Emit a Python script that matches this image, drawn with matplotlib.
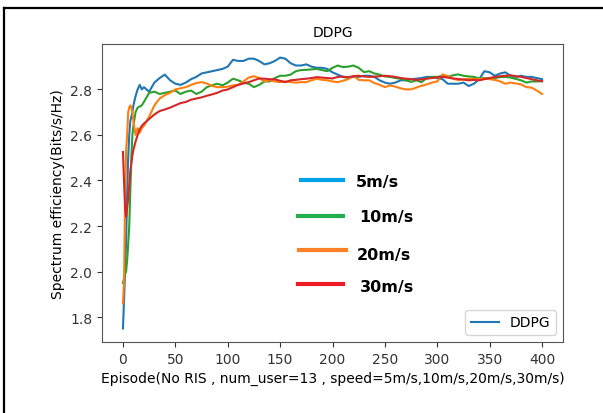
import matplotlib
matplotlib.use("Agg")
import matplotlib.pyplot as plt
from matplotlib.lines import Line2D

episodes = [0, 1, 2, 3, 4, 5, 6, 7, 8, 9, 10, 12, 14, 16, 18, 20] + list(range(25, 401, 5))

blue_5 = [1.75, 1.87, 2.00, 2.13, 2.35, 2.50, 2.60, 2.66, 2.68, 2.70, 2.73, 2.77, 2.80, 2.82, 2.80, 2.81,
          2.79, 2.83, 2.85, 2.865, 2.84, 2.825, 2.82, 2.83, 2.845, 2.855, 2.87, 2.875, 2.88, 2.885, 2.89,
          2.90, 2.93, 2.925, 2.925, 2.935, 2.935, 2.925, 2.91, 2.915, 2.925, 2.94, 2.935, 2.915, 2.905,
          2.905, 2.91, 2.90, 2.895, 2.895, 2.89, 2.875, 2.865, 2.855, 2.85, 2.855, 2.855, 2.86, 2.86,
          2.855, 2.84, 2.83, 2.825, 2.83, 2.84, 2.84, 2.845, 2.847, 2.85, 2.855, 2.855, 2.85, 2.845,
          2.825, 2.825, 2.825, 2.83, 2.815, 2.825, 2.845, 2.88, 2.875, 2.86, 2.87, 2.875, 2.86, 2.855,
          2.86, 2.855, 2.855, 2.85, 2.845]

green_10 = [1.95, 1.97, 1.99, 2.00, 2.05, 2.12, 2.20, 2.35, 2.50, 2.60, 2.64, 2.70, 2.72, 2.725, 2.73, 2.745,
            2.785, 2.79, 2.78, 2.785, 2.79, 2.795, 2.78, 2.79, 2.795, 2.78, 2.79, 2.81, 2.818, 2.825, 2.818,
            2.83, 2.847, 2.84, 2.83, 2.825, 2.81, 2.82, 2.835, 2.835, 2.85, 2.86, 2.86, 2.865, 2.88,
            2.885, 2.886, 2.888, 2.89, 2.885, 2.88, 2.895, 2.905, 2.898, 2.90, 2.905, 2.895, 2.876, 2.88,
            2.87, 2.865, 2.857, 2.855, 2.85, 2.847, 2.84, 2.833, 2.84, 2.832, 2.85, 2.855, 2.855, 2.86,
            2.855, 2.862, 2.866, 2.86, 2.857, 2.855, 2.848, 2.85, 2.848, 2.85, 2.854, 2.855, 2.852, 2.846,
            2.84, 2.83, 2.835, 2.835, 2.836]

orange_20 = [1.86, 1.95, 2.30, 2.53, 2.60, 2.70, 2.72, 2.73, 2.72, 2.70, 2.66, 2.60, 2.63, 2.61, 2.63, 2.64,
             2.68, 2.73, 2.76, 2.775, 2.785, 2.80, 2.805, 2.81, 2.82, 2.828, 2.832, 2.826, 2.815, 2.81, 2.81,
             2.812, 2.818, 2.82, 2.835, 2.852, 2.858, 2.85, 2.835, 2.84, 2.835, 2.832, 2.835, 2.832, 2.83,
             2.832, 2.832, 2.84, 2.847, 2.842, 2.84, 2.835, 2.832, 2.838, 2.845, 2.86, 2.842, 2.84, 2.84,
             2.828, 2.82, 2.81, 2.818, 2.812, 2.805, 2.80, 2.80, 2.808, 2.816, 2.822, 2.83, 2.835, 2.866,
             2.858, 2.848, 2.84, 2.845, 2.847, 2.845, 2.846, 2.848, 2.845, 2.842, 2.835, 2.825, 2.83, 2.826,
             2.822, 2.81, 2.808, 2.795, 2.78]

red_30 = [2.525, 2.40, 2.28, 2.24, 2.28, 2.32, 2.38, 2.44, 2.475, 2.51, 2.535, 2.57, 2.60, 2.625, 2.64, 2.65,
          2.67, 2.69, 2.705, 2.712, 2.72, 2.73, 2.74, 2.745, 2.755, 2.76, 2.765, 2.772, 2.778, 2.785, 2.795,
          2.80, 2.81, 2.82, 2.826, 2.832, 2.84, 2.848, 2.847, 2.845, 2.844, 2.838, 2.832, 2.84, 2.842,
          2.845, 2.847, 2.85, 2.854, 2.852, 2.85, 2.848, 2.855, 2.856, 2.854, 2.858, 2.86, 2.857, 2.855,
          2.856, 2.858, 2.86, 2.858, 2.855, 2.85, 2.847, 2.845, 2.842, 2.844, 2.847, 2.85, 2.853, 2.855,
          2.852, 2.848, 2.846, 2.843, 2.84, 2.842, 2.84, 2.845, 2.85, 2.855, 2.858, 2.86, 2.862, 2.858,
          2.855, 2.85, 2.845, 2.84, 2.836]

speed_labels = ["5m/s", "10m/s", "20m/s", "30m/s"]
speed_colors = ["#00a2e8", "#22b14c", "#ff7f27", "#ed1c24"]

W, H = 603, 414
fig = plt.figure(figsize=(W / 100, H / 100), dpi=100)
ax = fig.add_axes([102 / W, 1 - 343 / H, (563 - 102) / W, (343 - 45) / H])

ax.plot(episodes, blue_5, color="tab:blue", lw=1.5, label="DDPG")
ax.plot(episodes, green_10, color="tab:green", lw=1.5)
ax.plot(episodes, orange_20, color="tab:orange", lw=1.5)
ax.plot(episodes, red_30, color="tab:red", lw=1.5)

ax.set_title("DDPG", fontsize=10)
ax.set_xlabel("Episode(No RIS , num_user=13 , speed=5m/s,10m/s,20m/s,30m/s)", fontsize=10)
ax.set_ylabel("Spectrum efficiency(Bits/s/Hz)", fontsize=10)
ax.set_xticks(range(0, 401, 50))
ax.set_yticks([1.8, 2.0, 2.2, 2.4, 2.6, 2.8])
ax.tick_params(labelsize=10, colors="#333333")
for s in ax.spines.values():
    s.set_color("#555555")
ax.legend(loc="lower right", fontsize=10)

# pasted speed annotations (figure pixel coordinates)
line_spans = [(301, 343, 181), (298, 343, 217), (299, 346, 251), (298, 343, 285)]
text_pos = [(356, 183), (359, 218), (357, 256), (360, 288)]
for (x0, x1, yy), (tx, ty), lab, col in zip(line_spans, text_pos, speed_labels, speed_colors):
    fig.add_artist(Line2D([x0 / W, x1 / W], [1 - yy / H, 1 - yy / H], color=col, lw=3,
                          transform=fig.transFigure))
    fig.text(tx / W, 1 - ty / H, lab, fontsize=11.5, fontweight="bold", ha="left", va="center")

# outer black frame of the screenshot (top and left edges visible)
fig.add_artist(Line2D([4 / W, 1.0], [1 - 9 / H, 1 - 9 / H], color="black", lw=1.6,
                      transform=fig.transFigure))
fig.add_artist(Line2D([4 / W, 4 / W], [0.0, 1 - 9 / H], color="black", lw=1.6,
                      transform=fig.transFigure))

fig.savefig("out.png", dpi=100)
